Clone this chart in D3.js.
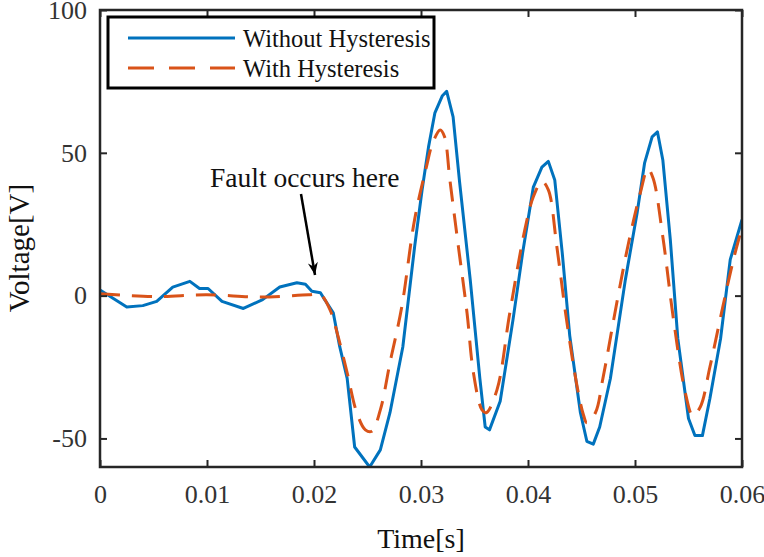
<!DOCTYPE html>
<meta charset="utf-8">
<style>
body{ margin: 0; background: white; }
svg text{ font-family: "Liberation Serif", "Times New Roman", serif; }
</style>
<body>
<div id="chart"></div>
<script src="https://cdn.jsdelivr.net/npm/d3@7"></script>
<script>
// without hysteresis (blue, solid)
var blueT = [0, 0.0025, 0.004, 0.0053, 0.0068, 0.0084, 0.0093, 0.0101, 0.0114, 0.0134, 0.0152, 0.0168, 0.0184, 0.0192, 0.0198, 0.0206,
  0.021, 0.0218, 0.0224, 0.0231, 0.0238, 0.0252, 0.0262, 0.0271, 0.0283, 0.0294, 0.0301, 0.0307, 0.0313, 0.032, 0.0324,
  0.033, 0.0336, 0.0346, 0.0355, 0.036, 0.0364, 0.0374, 0.0386, 0.0395, 0.0405, 0.0413, 0.0419, 0.0425, 0.0432, 0.0439,
  0.0449, 0.0455, 0.0461, 0.0467, 0.0477, 0.0491, 0.0502, 0.0509, 0.0516, 0.0521, 0.0526, 0.0533, 0.054, 0.055, 0.0556,
  0.0563, 0.057, 0.058, 0.0589, 0.06]
var blueV = [2, -4, -3.5, -2, 3, 5, 2.5, 2.5, -2, -4.5, -1.4, 3, 4.5, 4, 1.5, 1,
  -1.4, -6, -17.8, -29, -53, -60, -54, -41, -18, 17, 37, 52, 64, 70, 71.5,
  62.6, 40, 5.6, -29, -46, -47, -37, -8.4, 15, 38, 45, 47, 40.5, 15, -14,
  -41, -51, -52, -46, -29, 5.6, 29, 46.5, 55.6, 57.3, 47.5, 19.6, -15, -43, -49,
  -49, -36, -15, 12.6, 26.6]

// with hysteresis (orange, dashed)
var orangeT = [0, 0.005, 0.01, 0.015, 0.0195, 0.0206, 0.0215, 0.0223, 0.0231, 0.024, 0.0248, 0.0254, 0.0262, 0.0271, 0.0282,
  0.0294, 0.0305, 0.0311, 0.0318, 0.0322, 0.0327, 0.0335, 0.0343, 0.0349, 0.0357, 0.0361, 0.0371, 0.0383, 0.0397, 0.0405,
  0.0413, 0.0419, 0.0427, 0.0436, 0.0446, 0.0452, 0.0455, 0.0463, 0.047, 0.0483, 0.0494, 0.0505, 0.0512, 0.0517, 0.0526,
  0.0536, 0.0547, 0.0554, 0.0561, 0.057, 0.0582, 0.0592, 0.06]
var orangeV = [0.7, -0.3, 0.3, -0.5, 0.3, 0.3, -5, -15, -27, -41, -47, -47.5, -40, -23.5, -4,
  26.6, 45, 53.5, 58, 55.6, 40.5, 17, -6, -27, -40, -41, -33, -6, 23, 34.6,
  40, 37, 17, -8.4, -32, -42, -44.5, -41, -29, -2.5, 18.5, 36, 44.4, 41, 20.6,
  -8.4, -34, -42, -39, -25, -4, 12.6, 24]

var xTicks = [0, 0.01, 0.02, 0.03, 0.04, 0.05, 0.06]
var yTicks = [-50, 0, 50, 100]
var seriesNames = ['Without Hysteresis', 'With Hysteresis']
var colors = ['#0072BD', '#D95319']

var W = 764, H = 557
var mLeft = 100, mRight = 742, mTop = 10, mBottom = 467

var svg = d3.select('#chart').append('svg')
    .attr('width', W).attr('height', H)

var x = d3.scaleLinear().domain([0, 0.06]).range([mLeft, mRight])
var y = d3.scaleLinear().domain([-60, 100]).range([mBottom, mTop])

var defs = svg.append('defs')
defs.append('clipPath').attr('id', 'clip')
  .append('rect')
    .attr('x', mLeft).attr('y', mTop)
    .attr('width', mRight - mLeft).attr('height', mBottom - mTop)

var plot = svg.append('g').attr('clip-path', 'url(#clip)')

var blue = blueT.map(function(t, i){ return [t, blueV[i]] })
var orange = orangeT.map(function(t, i){ return [t, orangeV[i]] })

var line = d3.line().x(function(d){ return x(d[0]) }).y(function(d){ return y(d[1]) })
var smooth = d3.line().curve(d3.curveCatmullRom)
    .x(function(d){ return x(d[0]) }).y(function(d){ return y(d[1]) })

plot.append('path').datum(blue)
    .attr('d', line)
    .attr('fill', 'none').attr('stroke', colors[0])
    .attr('stroke-width', 3).attr('stroke-linejoin', 'round')

plot.append('path').datum(orange)
    .attr('d', smooth)
    .attr('fill', 'none').attr('stroke', colors[1])
    .attr('stroke-width', 3).attr('stroke-dasharray', '20,12')

// axes, ticks inside on all four sides
var axisColor = '#262626'
var tickLen = 7

var gx = svg.append('g').attr('transform', 'translate(0,' + mBottom + ')')
    .call(d3.axisBottom(x).tickValues(xTicks).tickSize(-tickLen).tickPadding(18)
      .tickFormat(function(d){ return d === 0 ? '0' : d3.format('.2f')(d) }))
var gx2 = svg.append('g').attr('transform', 'translate(0,' + mTop + ')')
    .call(d3.axisTop(x).tickValues(xTicks).tickSize(-tickLen).tickFormat(''))
var gy = svg.append('g').attr('transform', 'translate(' + mLeft + ',0)')
    .call(d3.axisLeft(y).tickValues(yTicks).tickSize(-tickLen).tickPadding(13)
      .tickFormat(function(d){ return String(d) }))
var gy2 = svg.append('g').attr('transform', 'translate(' + mRight + ',0)')
    .call(d3.axisRight(y).tickValues(yTicks).tickSize(-tickLen).tickFormat(''))

;[gx, gx2, gy, gy2].forEach(function(g){
  g.attr('font-family', null)
  g.select('.domain').remove()
  g.selectAll('.tick line').attr('stroke', axisColor).attr('stroke-width', 2)
  g.selectAll('.tick text')
      .style('font-family', '"Liberation Serif", "Times New Roman", serif')
      .style('font-size', '26px')
      .attr('fill', '#333')
})

svg.append('rect')
    .attr('x', mLeft).attr('y', mTop)
    .attr('width', mRight - mLeft).attr('height', mBottom - mTop)
    .attr('fill', 'none').attr('stroke', axisColor).attr('stroke-width', 2.5)

svg.append('text')
    .attr('x', (mLeft + mRight) / 2).attr('y', 548)
    .attr('text-anchor', 'middle').attr('font-size', 28).attr('fill', '#111')
    .text('Time[s]')

svg.append('text')
    .attr('transform', 'translate(29,248) rotate(-90)')
    .attr('text-anchor', 'middle').attr('font-size', 29).attr('fill', '#111')
    .text('Voltage[V]')

// annotation
svg.append('text')
    .attr('x', 210).attr('y', 187)
    .attr('font-size', 27.5).attr('fill', '#111')
    .text('Fault occurs here')

defs.append('marker')
    .attr('id', 'arrow').attr('viewBox', '0 -5 10 10')
    .attr('refX', 10).attr('refY', 0)
    .attr('markerWidth', 6).attr('markerHeight', 5).attr('orient', 'auto')
  .append('path').attr('d', 'M0,-4L10,0L0,4L3,0Z').attr('fill', 'black')

svg.append('line')
    .attr('x1', 301).attr('y1', 194)
    .attr('x2', 315).attr('y2', 275)
    .attr('stroke', 'black').attr('stroke-width', 2.5)
    .attr('marker-end', 'url(#arrow)')

// legend
var lg = svg.append('g')
lg.append('rect')
    .attr('x', 108).attr('y', 17).attr('width', 326).attr('height', 71)
    .attr('fill', 'white').attr('stroke', 'black').attr('stroke-width', 3)

seriesNames.forEach(function(name, i){
  var ly = 38 + i * 30
  lg.append('line')
      .attr('x1', 128).attr('x2', 235).attr('y1', ly).attr('y2', ly)
      .attr('stroke', colors[i]).attr('stroke-width', 3)
      .attr('stroke-dasharray', i ? '26,15' : null)
  lg.append('text')
      .attr('x', 243).attr('y', ly).attr('dy', '0.35em')
      .attr('font-size', 24.5).attr('fill', '#111')
      .text(name)
})
</script>
</body>
